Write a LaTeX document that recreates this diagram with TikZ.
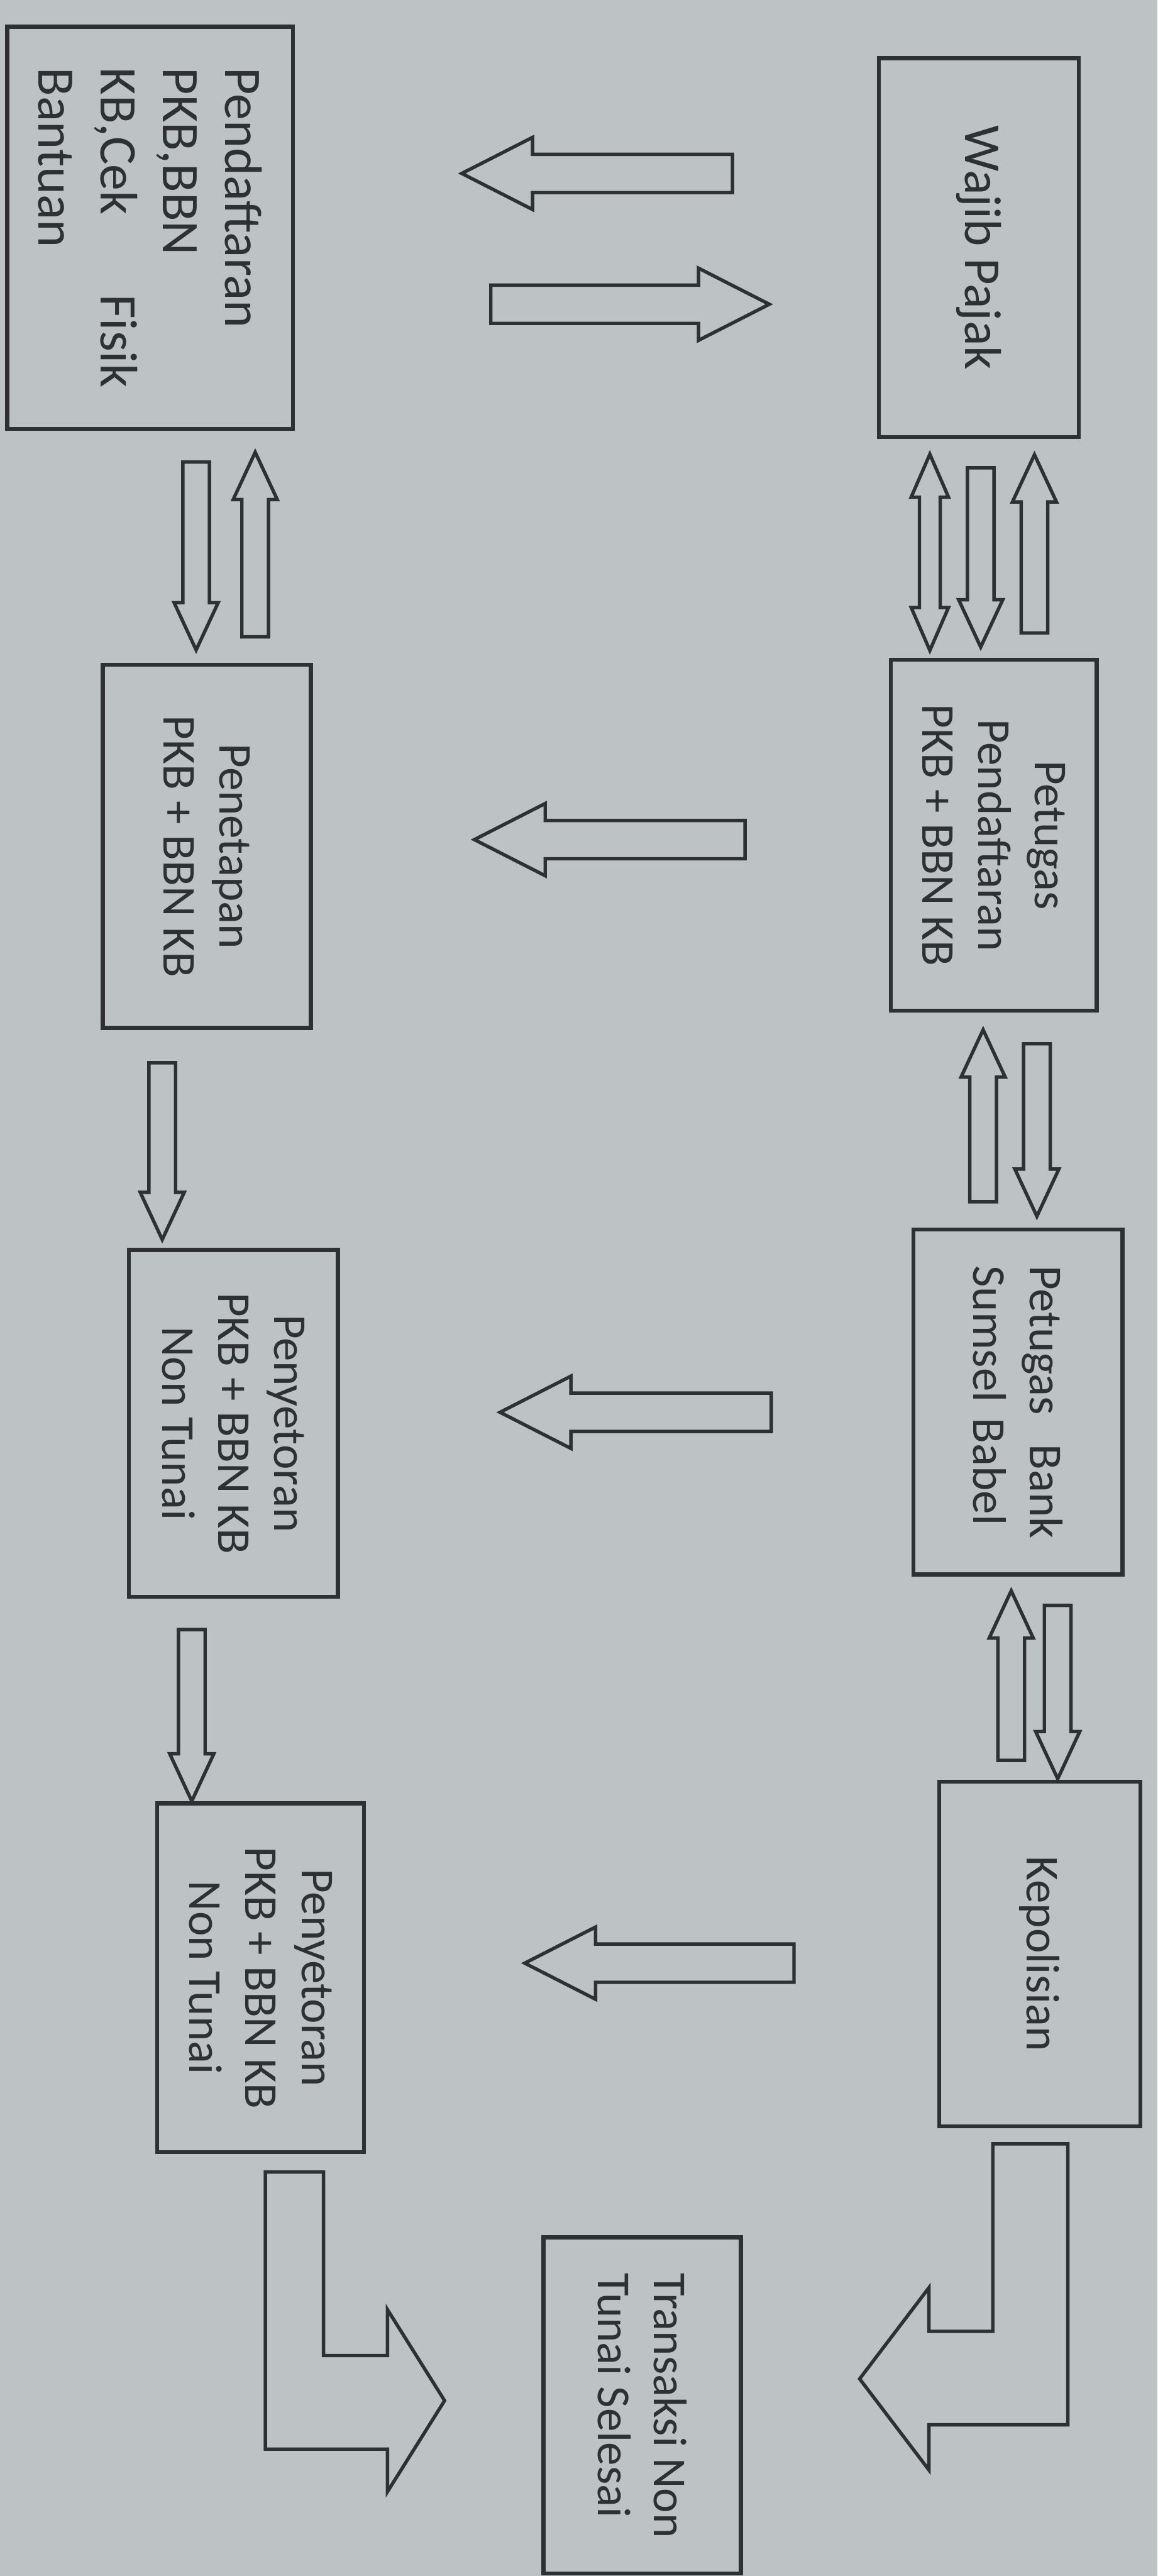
\documentclass[tikz,border=0pt]{standalone}
\usepackage{fontspec}
\setmainfont{Carlito}
\usetikzlibrary{arrows,shapes.arrows}

\definecolor{paper}{RGB}{189,194,197}
\definecolor{ink}{RGB}{46,49,52}

\begin{document}
\begin{tikzpicture}
      [>=stealth',
        entity/.style={
          rectangle,
          draw=ink, line width=2.4pt,
          text=ink,
          rotate=-90,
          align=center,
          font=\fontsize{27.7}{33}\selectfont,
        },
        blockarrow/.style={
          single arrow, draw=ink, line width=2pt,
          text height=0pt, text depth=0pt, inner xsep=0pt,
          minimum width=0pt, anchor=tail,
        },
        widearrow/.style={blockarrow, inner ysep=0.36cm,
          single arrow head extend=0.35cm, single arrow tip angle=54},
        narrowarrow/.style={blockarrow, inner ysep=0.24cm,
          single arrow head extend=0.18cm, single arrow tip angle=50},
        pairarrow/.style={double arrow, draw=ink, line width=2pt,
          text height=0pt, text depth=0pt, inner xsep=0pt, inner ysep=0.18cm,
          minimum width=0pt, double arrow head extend=0.17cm,
          double arrow tip angle=47},
        bentarrow/.style={draw=ink, line width=2pt},
      ]
      \fill[paper] (0,0) rectangle (23.9,-53.17);
      \useasboundingbox (0,0) rectangle (23.9,-53.17);

      % left column
      \node[entity, font=\fontsize{31}{36.5}\selectfont, text width=6.6cm, align=left,
        minimum width=8.3cm, minimum height=5.9cm] (pendaftaran) at (3.10,-4.70)
        {Pendaftaran\\PKB,BBN\\KB,Cek\hfill Fisik\\Bantuan};
      \node[entity, minimum width=7.5cm, minimum height=4.3cm] (penetapan) at (4.27,-17.47)
        {Penetapan\\PKB + BBN KB};
      \node[entity, minimum width=7.16cm, minimum height=4.32cm] (penyetoran) at (4.82,-29.38)
        {Penyetoran\\PKB + BBN KB\\Non Tunai};
      \node[entity, minimum width=7.2cm, minimum height=4.27cm] (penyetoranb) at (5.38,-40.82)
        {Penyetoran\\PKB + BBN KB\\Non Tunai};

      % right column
      \node[entity, font=\fontsize{30.5}{36}\selectfont, minimum width=7.82cm, minimum height=4.13cm]
        (wajib) at (20.21,-5.11) {Wajib Pajak};
      \node[entity, minimum width=7.24cm, minimum height=4.25cm] (petugas) at (20.52,-17.24)
        {Petugas\\Pendaftaran\\PKB + BBN KB};
      \node[entity, text width=5.64cm, align=left, minimum width=7.12cm, minimum height=4.32cm]
        (bank) at (21.02,-28.94) {Petugas\hfill Bank\\Sumsel Babel};
      \node[entity, minimum width=7.11cm, minimum height=4.15cm] (polisi) at (21.47,-40.33)
        {Kepolisian};
      \node[entity, align=left, minimum width=6.94cm, minimum height=4.08cm] (selesai) at (13.26,-49.65)
        {Transaksi Non\\Tunai Selesai};

      % horizontal arrows
      \node[widearrow, rotate=180, minimum height=5.59cm] (wajibkiri) at (15.16,-3.58) {};
      \node[widearrow, minimum height=5.75cm] (wajibkanan) at (10.10,-6.28) {};
      \node[widearrow, rotate=180, minimum height=5.59cm] (petugaskiri) at (15.42,-17.33) {};
      \node[widearrow, rotate=180, minimum height=5.60cm] (bankkiri) at (15.96,-29.15) {};
      \node[widearrow, rotate=180, minimum height=5.56cm] (polisikiri) at (16.43,-40.52) {};

      % vertical arrows
      \node[narrowarrow, rotate=-90, minimum height=3.88cm] (pendturun) at (4.05,-9.50) {};
      \node[narrowarrow, rotate=90, minimum height=3.81cm] (pendnaik) at (5.27,-13.18) {};
      \node[pairarrow, rotate=90, minimum height=4.05cm] (wajibdua) at (19.20,-11.40) {};
      \node[narrowarrow, rotate=-90, minimum height=3.70cm] (wajibturun) at (20.25,-9.62) {};
      \node[narrowarrow, rotate=90, minimum height=3.68cm] (wajibnaik) at (21.36,-13.10) {};
      \node[narrowarrow, rotate=-90, minimum height=3.65cm] (tetapturun) at (3.35,-21.90) {};
      \node[narrowarrow, rotate=90, minimum height=3.55cm] (petugasnaik) at (20.30,-24.84) {};
      \node[narrowarrow, rotate=-90, minimum height=3.56cm] (petugasturun) at (21.41,-21.51) {};
      \node[narrowarrow, rotate=-90, minimum height=3.54cm] (setorturun) at (3.96,-33.60) {};
      \node[narrowarrow, rotate=90, minimum height=3.50cm] (banknaik) at (20.88,-36.37) {};
      \node[narrowarrow, rotate=-90, minimum height=3.58cm] (bankturun) at (21.84,-33.10) {};

      % bent arrows to the last box
      \draw[bentarrow] (5.48,-44.83) -- (6.68,-44.83) -- (6.68,-48.62) -- (8.00,-48.62)
        -- (8.00,-47.67) -- (9.18,-49.55) -- (8.00,-51.43) -- (8.00,-50.55) -- (5.48,-50.55) -- cycle;
      \draw[bentarrow] (22.05,-44.25) -- (20.50,-44.25) -- (20.50,-48.12) -- (19.18,-48.12)
        -- (19.18,-47.22) -- (17.75,-49.10) -- (19.18,-50.98) -- (19.18,-50.05) -- (22.05,-50.05) -- cycle;
\end{tikzpicture}
\end{document}
